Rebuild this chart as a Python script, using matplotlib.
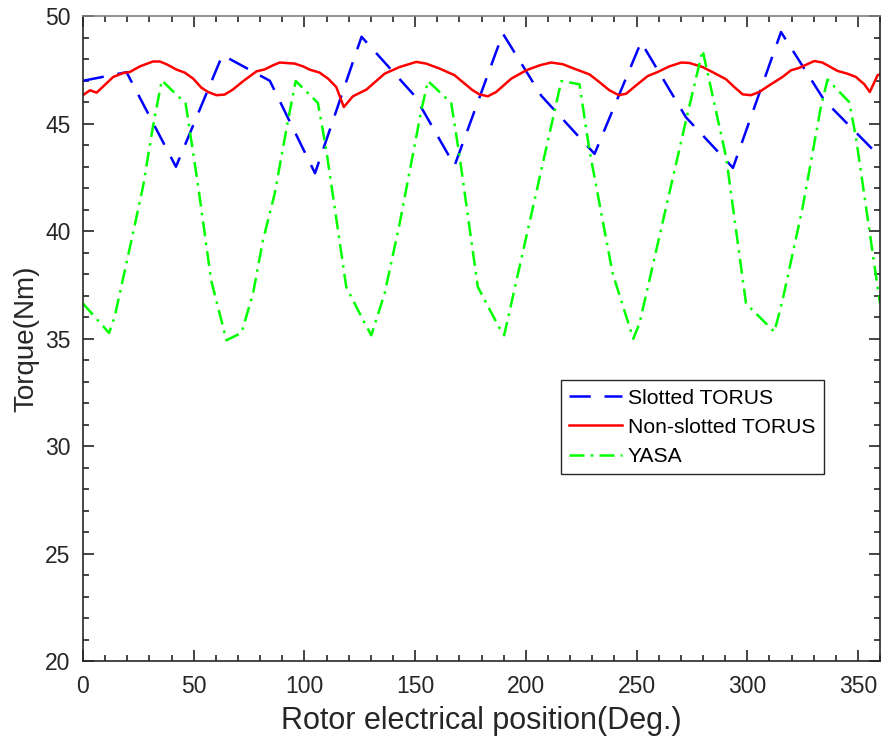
import matplotlib
matplotlib.use("Agg")
import matplotlib.pyplot as plt
from matplotlib.ticker import MultipleLocator

plt.rcParams['font.family'] = ['Liberation Sans', 'DejaVu Sans']

# Slotted TORUS torque
slotted_pos = [0, 19.7, 42, 63, 84.4, 104.8, 125.8, 149.8, 167.8, 189.6,
               207, 231, 252, 272.3, 293.5, 315.2, 334.7, 360]
slotted_torque = [47.0, 47.4, 43.0, 48.2, 47.0, 42.7, 49.05, 46.3, 43.05, 49.2,
                  46.3, 43.6, 48.8, 45.3, 42.95, 49.27, 46.1, 43.45]

# Non-slotted TORUS torque
nonslotted_pos = [0, 3.2, 6.2, 13.7, 18.2, 21.2, 25.7, 31.7, 34.7, 37.8,
                  42.3, 46, 49.8, 53.5, 56.5, 60.3, 64, 67.8, 72.3, 78.4,
                  82.1, 85.8, 88.9, 95.6, 99.4, 102.4, 106.9, 110.7, 114.4, 117.8,
                  121.9, 128, 136.2, 143, 150.5, 155, 161, 167.8, 171.5, 176,
                  179, 182.8, 186.6, 193.4, 200.2, 206.2, 211.4, 216.7, 222.7, 228.7,
                  233.2, 237.7, 242, 245.3, 249.8, 255, 259.5, 264.8, 270.1, 273.8,
                  279.8, 285.1, 290.4, 294.1, 297.9, 301.6, 305.4, 309.9, 315.9, 319.7,
                  323.4, 330.2, 333.9, 340.7, 345.2, 349, 352.8, 355.3, 358.8, 360]
nonslotted_torque = [46.33, 46.56, 46.45, 47.18, 47.36, 47.41, 47.67, 47.9, 47.9, 47.77,
                     47.52, 47.38, 47.1, 46.68, 46.48, 46.33, 46.36, 46.6, 46.98, 47.44,
                     47.53, 47.72, 47.85, 47.8, 47.67, 47.52, 47.38, 47.1, 46.71, 45.78,
                     46.28, 46.59, 47.33, 47.64, 47.88, 47.8, 47.57, 47.26, 46.94, 46.56,
                     46.37, 46.28, 46.48, 47.1, 47.49, 47.72, 47.85, 47.77, 47.53, 47.3,
                     46.94, 46.56, 46.33, 46.4, 46.79, 47.22, 47.41, 47.67, 47.85, 47.83,
                     47.64, 47.36, 47.07, 46.71, 46.37, 46.33, 46.48, 46.79, 47.18, 47.49,
                     47.6, 47.92, 47.85, 47.46, 47.33, 47.18, 46.84, 46.48, 47.26, 47.3]

# YASA torque
yasa_pos = [0, 11.8, 14.3, 22.6, 27.1, 31.6, 35.6, 46.4, 51.9, 57.9,
            64.8, 71.6, 76.8, 81.3, 86.6, 92.6, 96.1, 106.1, 109.9, 118.9,
            124.2, 130.2, 136.2, 143, 152.8, 155.8, 166.3, 170.1, 178.3, 187.8,
            190.2, 216, 224.2, 228.7, 239.2, 248.5, 251.3, 272.3, 279.8, 290.4,
            299.4, 312.2, 315.9, 325, 333.2, 336.2, 346, 349, 358.8, 360]
yasa_torque = [36.64, 35.27, 36.0, 39.9, 42.06, 44.85, 47.02, 45.94, 42.2, 37.72,
               34.93, 35.27, 37.1, 39.58, 41.75, 45.16, 46.99, 45.97, 43.77, 37.41,
               36.33, 35.16, 37.1, 40.35, 45.63, 46.99, 45.97, 43.46, 37.41, 35.55,
               35.16, 46.99, 46.84, 43.77, 38.03, 35.0, 35.71, 45.16, 48.42, 43.46,
               36.64, 35.32, 36.79, 41.13, 45.78, 47.06, 46.01, 44.39, 37.41, 36.6]

fig = plt.figure(figsize=(8.82, 7.42), dpi=100)
ax = fig.add_axes([0.094, 0.109, 0.904, 0.869])

ax.plot(slotted_pos, slotted_torque, color='#0000ff', lw=1.8,
        linestyle=(0, (8.5, 5.5)), label='Slotted TORUS')
ax.plot(nonslotted_pos, nonslotted_torque, color='#ff0000', lw=1.8,
        linestyle='-', label='Non-slotted TORUS')
ax.plot(yasa_pos, yasa_torque, color='#00ff00', lw=1.8,
        linestyle=(0, (6, 2.5, 1, 2.5)), label='YASA')

ax.set_xlim(0, 360)
ax.set_ylim(20, 50)
ax.xaxis.set_major_locator(MultipleLocator(50))
ax.xaxis.set_minor_locator(MultipleLocator(10))
ax.yaxis.set_major_locator(MultipleLocator(5))
ax.yaxis.set_minor_locator(MultipleLocator(1))
ax.tick_params(which='both', direction='in', top=True, right=True,
               color='#262626', width=1.2)
ax.tick_params(which='major', length=8, labelsize=16.5, labelcolor='#262626')
ax.tick_params(axis='x', which='major', pad=10)
ax.tick_params(axis='y', which='major', pad=9)
ax.tick_params(which='minor', length=4)
for side in ('left', 'bottom', 'right'):
    ax.spines[side].set_color('#262626')
    ax.spines[side].set_linewidth(1.2)
ax.spines['top'].set_color('#808080')
ax.spines['top'].set_linewidth(1.2)

ax.set_xlabel('Rotor electrical position(Deg.)', fontsize=22, color='#262626', labelpad=6)
ax.set_ylabel('Torque(Nm)', fontsize=20, color='#262626', labelpad=4)

leg = ax.legend(loc='upper left', bbox_to_anchor=(0.599, 0.4357), fontsize=15.2,
                frameon=True, fancybox=False, framealpha=1, edgecolor='#262626',
                handlelength=2.5, handletextpad=0.3, borderpad=0.4,
                labelspacing=0.48, borderaxespad=0)
leg.get_frame().set_linewidth(1.0)

fig.savefig('out.png', dpi=100)
